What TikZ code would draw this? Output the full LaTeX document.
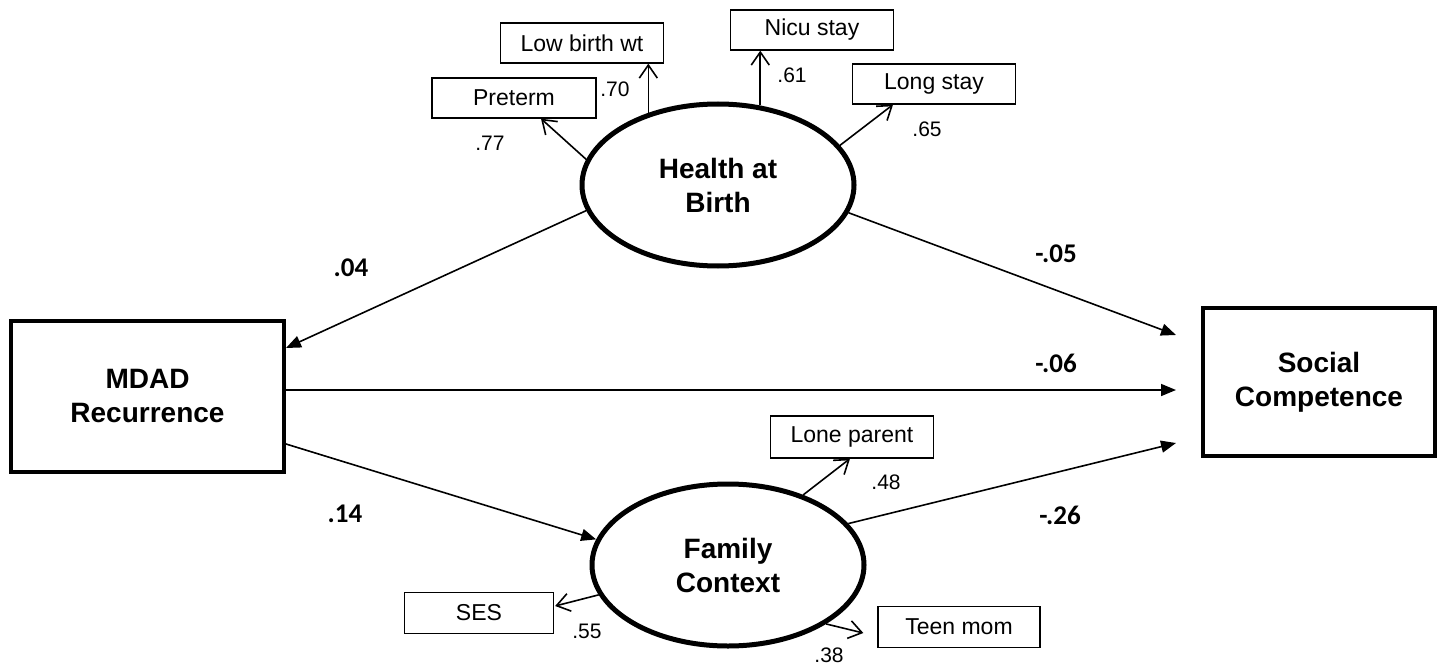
\documentclass[tikz,border=0pt]{standalone}
\usepackage{fontspec}
\setmainfont{Liberation Sans}
\newfontfamily\carlito{Carlito}
\usetikzlibrary{arrows.meta,shapes.geometric,calc}
\begin{document}
\begin{tikzpicture}[x=1pt,y=-1pt,
  bigbox/.style={draw,line width=4pt,inner sep=0pt,align=center,
    font=\fontsize{28}{34}\selectfont\bfseries},
  latent/.style={draw,ellipse,line width=5pt,inner sep=0pt,align=center,
    minimum width=272pt,minimum height=162pt,
    font=\fontsize{28}{34}\selectfont\bfseries},
  obs/.style={draw,line width=1.3pt,inner sep=0pt,minimum width=163pt,minimum height=40pt,
    font=\fontsize{23}{27}\selectfont},
  pth/.style={line width=1.6pt,-{Triangle[length=15pt,width=12pt]}},
  ld/.style={line width=1.6pt,-{Straight Barb[length=13pt,width=18pt,line width=1.6pt]}},
  coef/.style={font=\carlito\fontsize{27}{30}\selectfont\bfseries},
  lbl/.style={font=\fontsize{21}{24}\selectfont}]
\useasboundingbox (0,0) rectangle (1437,666);
\fill[white] (0,0) rectangle (1437,666);

% main boxes
\node[bigbox,minimum width=273pt,minimum height=151pt] (mdad) at (147.5,396.5) {MDAD\\Recurrence};
\node[bigbox,minimum width=232pt,minimum height=148pt] (social) at (1319,382) {Social\\Competence};

% latent variables
\node[latent] (health) at (718,185) {Health at\\Birth};
\node[latent] (family) at (728,565) {Family\\Context};

% indicators
\node[obs,minimum width=164pt] (pre) at (514,98) {Preterm};
\node[obs] (lbw) at (582,43) {Low birth wt};
\node[obs] (nicu) at (812,30) {Nicu stay};
\node[obs] (long) at (934,84) {Long stay};
\node[obs,minimum height=42pt] (lone) at (852,437) {Lone parent};
\node[obs,minimum width=149pt,minimum height=41pt] (ses) at (479,613) {SES};
\node[obs,minimum width=162pt,minimum height=41pt] (teen) at (959,627) {Teen mom};

% loadings
\draw[ld] (health.169) -- ($(pre.south)+(27,0)$);
\draw[ld] (health.134) -- (health.134 |- lbw.south);
\draw[ld] (health.62.3) -- (health.62.3 |- nicu.south);
\draw[ld] (health.18) -- ($(long.south)+(-41,0)$);
\draw[ld] (family.43) -- ($(lone.south)+(-2,0)$);
\draw[ld] (family.193) -- ($(ses.east)+(1,-7)$);
\draw[ld] (family.329.2) -- ($(teen.west)+(-14,6)$);

% structural paths
\draw[pth] (health.191.2) -- ($(mdad.east)+(0,-48.5)$);
\draw[pth] (health.348.3) -- ($(social.west)+(-25,-47)$);
\coordinate (mstart) at ($(mdad.east)+(0,-6.5)$);
\draw[pth,shorten >=25pt] (mstart) -- (mstart -| social.west);
\draw[pth] ($(mdad.east)+(0,47.5)$) -- (family.169.5);
\draw[pth] (family.19.6) -- ($(social.west)+(-25,61)$);

% path coefficients
\node[coef] (c1) at (351,268) {.04};
\node[coef] (c2) at (1056,254) {-.05};
\node[coef] (c3) at (1056,363) {-.06};
\node[coef] (c4) at (345,514) {.14};
\node[coef] (c5) at (1060,515) {-.26};

% loading values
\node[lbl] (l1) at (490,143) {.77};
\node[lbl] (l2) at (615,89) {.70};
\node[lbl] (l3) at (792,75) {.61};
\node[lbl] (l4) at (927,129) {.65};
\node[lbl] (l5) at (886,482) {.48};
\node[lbl] (l6) at (587,631) {.55};
\node[lbl] (l7) at (829,655) {.38};
\end{tikzpicture}
\end{document}
